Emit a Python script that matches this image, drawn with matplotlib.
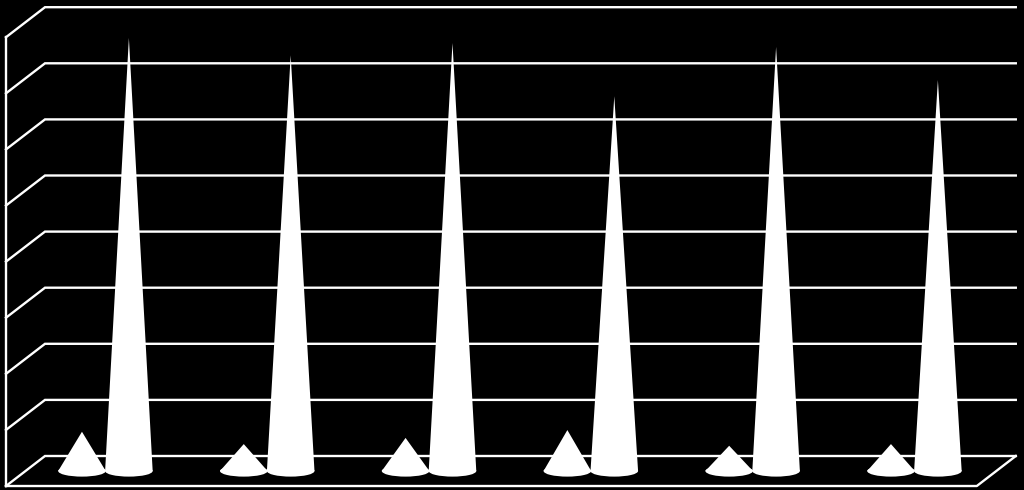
import matplotlib
matplotlib.use('Agg')
import matplotlib.pyplot as plt
from matplotlib.patches import Ellipse
import numpy as np

# values (no labels in the original)
small_values = [0.70, 0.48, 0.59, 0.73, 0.45, 0.48]
tall_values = [7.72, 7.41, 7.63, 6.68, 7.56, 6.97]
grid_values = np.arange(0, 9)

depth_x = 0.241
depth_y = 0.535
cone_half = 0.147
cone_gap = 0.145
line_w = 1.7

fig = plt.figure(figsize=(10.24, 4.9), dpi=100, facecolor='black')
ax = fig.add_axes([0, 0, 1, 1], facecolor='black')
ax.set_xlim(-6 / 161.8, 1018 / 161.8)
ax.set_ylim(-34 / 56.1, 456 / 56.1)
ax.axis('off')

n = len(tall_values)

# back wall gridlines and the slants on the left wall
for v in grid_values:
    ax.plot([0, depth_x, n + depth_x], [v - depth_y, v, v], color='white',
            lw=line_w, solid_joinstyle='miter', zorder=1)

# left edge and floor
ax.plot([0, 0], [-depth_y, grid_values[-1] - depth_y], color='white', lw=line_w, zorder=1)
ax.plot([0, n, n + depth_x], [-depth_y, -depth_y, 0], color='white', lw=line_w, zorder=1)


def draw_cone(x, value):
    base = -depth_y / 2
    ax.fill([x - cone_half, x, x + cone_half], [base, value + base, base],
            color='white', lw=0, zorder=2)
    ax.add_patch(Ellipse((x, base), 2 * cone_half, 0.2, color='white', lw=0, zorder=2))


for i in range(n):
    center = i + 0.5 + depth_x / 2 - 0.006
    draw_cone(center - cone_gap, small_values[i])
    draw_cone(center + cone_gap, tall_values[i])

fig.savefig('out.png', dpi=100, facecolor='black')
